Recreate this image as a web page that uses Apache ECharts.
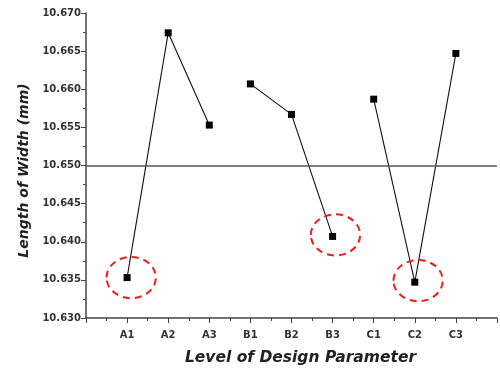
<!DOCTYPE html>
<html>
<head>
<meta charset="utf-8">
<script src="https://cdn.jsdelivr.net/npm/echarts@6/dist/echarts.min.js"></script>
<style>
html,body{margin:0;padding:0;background:#fff;}
#c{width:500px;height:371px;}
</style>
</head>
<body>
<div id="c"></div>
<script>
var categories = ['A1','A2','A3','B1','B2','B3','C1','C2','C3'];
var groupA = [10.6353, 10.6674, 10.6553];
var groupB = [10.6607, 10.6567, 10.6407];
var groupC = [10.6587, 10.6347, 10.6647];
var targetValue = 10.650;
var yTicks = [10.630, 10.635, 10.640, 10.645, 10.650, 10.655, 10.660, 10.665, 10.670];
// highlighted points: [x position, y value]
var circled = [[1.1, 10.6353], [6.07, 10.6409], [8.08, 10.6349]];
var circleSize = [1.2, 0.0054];

function toPoints(vals, start) {
  return vals.map(function (v, i) { return [start + i, v]; });
}

var font = '"DejaVu Sans", sans-serif';
var chart = echarts.init(document.getElementById('c'), null, {renderer: 'canvas'});

function lineSeries(data) {
  return {
    type: 'line',
    data: data,
    symbol: 'rect',
    symbolSize: 7,
    itemStyle: {color: '#000'},
    lineStyle: {color: '#111', width: 1.1},
    animation: false,
    z: 3
  };
}

var seriesA = lineSeries(toPoints(groupA, 1));
seriesA.markLine = {
  silent: true,
  symbol: 'none',
  label: {show: false},
  lineStyle: {color: '#555', width: 1.5, type: 'solid'},
  data: [{yAxis: targetValue}],
  animation: false
};

chart.setOption({
  animation: false,
  backgroundColor: '#fff',
  grid: {left: 86, top: 13, width: 416, height: 305},
  xAxis: {
    type: 'value',
    min: 0, max: 10, interval: 1,
    name: 'Level of Design Parameter',
    nameLocation: 'middle',
    nameGap: 32,
    nameTextStyle: {fontFamily: font, fontSize: 15.5, fontWeight: 'bold', fontStyle: 'italic', color: '#222', padding: [0, 0, 0, 18]},
    axisLine: {show: true, onZero: false, lineStyle: {color: '#444', width: 1.5}},
    axisTick: {show: true, inside: false, length: 5, lineStyle: {color: '#444', width: 1}},
    minorTick: {show: true, splitNumber: 2, length: 3, lineStyle: {color: '#444', width: 1}},
    splitLine: {show: false},
    axisLabel: {
      fontFamily: font, fontSize: 10, fontWeight: 'bold', color: '#333', margin: 12,
      formatter: function (v) { return categories[Math.round(v) - 1] || ''; }
    }
  },
  yAxis: {
    type: 'value',
    min: yTicks[0], max: yTicks[yTicks.length - 1], interval: 0.005,
    name: 'Length of Width (mm)',
    nameLocation: 'middle',
    nameGap: 55,
    nameTextStyle: {fontFamily: font, fontSize: 14, fontWeight: 'bold', fontStyle: 'italic', color: '#222', padding: [0, 10, 0, 0]},
    axisLine: {show: true, lineStyle: {color: '#444', width: 1.5}},
    axisTick: {show: true, inside: false, length: 5, lineStyle: {color: '#444', width: 1}},
    minorTick: {show: true, splitNumber: 2, length: 3, lineStyle: {color: '#444', width: 1}},
    splitLine: {show: false},
    axisLabel: {
      fontFamily: font, fontSize: 10, fontWeight: 'bold', color: '#333', margin: 5,
      formatter: function (v) { return v.toFixed(3); }
    }
  },
  series: [
    seriesA,
    lineSeries(toPoints(groupB, 4)),
    lineSeries(toPoints(groupC, 7)),
    {
      type: 'custom',
      data: circled,
      z: 4,
      silent: true,
      renderItem: function (params, api) {
        var c = api.coord([api.value(0), api.value(1)]);
        var s = api.size([circleSize[0], circleSize[1]]);
        return {
          type: 'ellipse',
          shape: {cx: c[0], cy: c[1], rx: s[0] / 2, ry: s[1] / 2},
          style: {fill: 'none', stroke: '#ee1c1c', lineWidth: 2, lineDash: [7, 5]}
        };
      }
    }
  ]
});
</script>
</body>
</html>
